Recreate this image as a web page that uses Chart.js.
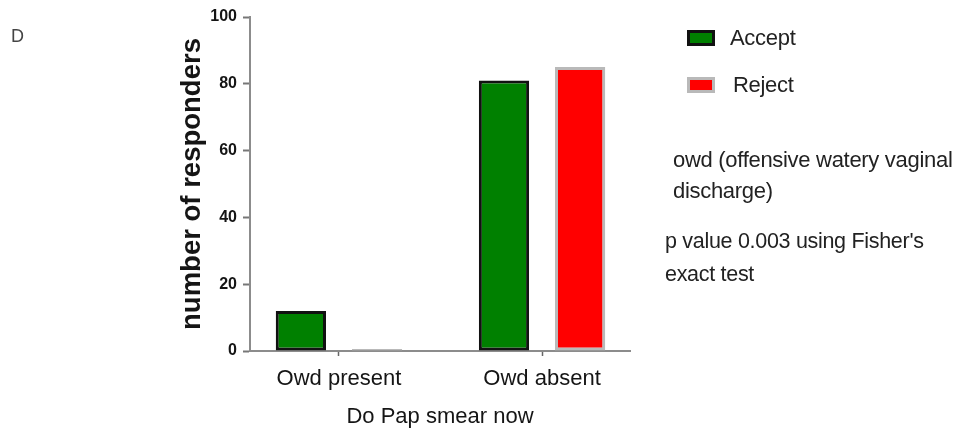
<!DOCTYPE html>
<html>
<head>
<meta charset="utf-8">
<script src="https://cdn.jsdelivr.net/npm/chart.js@4/dist/chart.umd.min.js"></script>
<style>
  html, body { margin: 0; padding: 0; background: #ffffff; }
  #wrap { position: relative; width: 956px; height: 432px; overflow: hidden; }
  canvas { position: absolute; left: 0; top: 0; }
  .txt { position: absolute; white-space: nowrap; color: #222; font-family: 'Liberation Sans', Arial, sans-serif; letter-spacing: -0.3px; }
  .box { position: absolute; box-sizing: border-box; }
</style>
</head>
<body>
<div id="wrap">
  <canvas id="c" width="956" height="432"></canvas>
  <div id="legend"></div>
  <div class="txt" style="left:11px; top:24px; font-size:18px; line-height:24px; color:#444;">D</div>
  <div class="txt" style="left:673px; top:145px; font-size:22px; line-height:30px;">owd (offensive watery vaginal</div>
  <div class="txt" style="left:673px; top:176px; font-size:22px; line-height:30px;">discharge)</div>
  <div class="txt" style="left:665px; top:226px; font-size:21.5px; line-height:30px;">p value 0.003 using Fisher's</div>
  <div class="txt" style="left:665px; top:259px; font-size:21.5px; line-height:30px;">exact test</div>
</div>
<script>
// ---- data ----
const categories = ['Owd present', 'Owd absent'];
const seriesNames = ['Accept', 'Reject'];
const acceptCounts = [12, 81];
const rejectCounts = [0, 85];
const yTickValues = [0, 20, 40, 60, 80, 100];
const xTitle = 'Do Pap smear now';
const yTitle = 'number of responders';

// ---- styles ----
const FONT = "'Liberation Sans', Arial, sans-serif";
const fills = ['#008000', '#ff0000'];
const borders = ['#111111', '#b9b9b9'];

const toPoints = arr => arr.map((v, i) => ({ x: i + 1, y: v }));

const chart = new Chart(document.getElementById('c'), {
  type: 'bar',
  data: {
    datasets: [
      { label: seriesNames[0], data: toPoints(acceptCounts), backgroundColor: fills[0], borderColor: borders[0], borderWidth: 3, borderSkipped: false, minBarLength: 2 },
      { label: seriesNames[1], data: toPoints(rejectCounts), backgroundColor: fills[1], borderColor: borders[1], borderWidth: 3, borderSkipped: false, minBarLength: 2 }
    ]
  },
  options: {
    responsive: false,
    animation: false,
    devicePixelRatio: 1,
    layout: { padding: { left: 0, right: 326, top: 17, bottom: 0 } },
    categoryPercentage: 0.75,
    barPercentage: 0.66,
    plugins: { legend: { display: false }, tooltip: { enabled: false } },
    scales: {
      x: {
        type: 'linear',
        offset: false,
        min: 0.562,
        max: 2.433,
        afterBuildTicks: s => { s.ticks = categories.map((c, i) => ({ value: i + 1 })); },
        afterFit: s => { s.height = 81; },
        grid: { display: true, offset: false, drawOnChartArea: false, drawTicks: true, tickLength: 5, tickColor: '#666', tickWidth: 1.5 },
        border: { display: true, color: '#8c8c8c', width: 2 },
        ticks: {
          autoSkip: false, maxRotation: 0, padding: 10, color: '#151515',
          font: { family: FONT, size: 22 },
          callback: v => categories[Math.round(v) - 1] || ''
        },
        title: { display: true, text: xTitle, color: '#151515', font: { family: FONT, size: 22 }, padding: { top: 0, bottom: 2 } }
      },
      y: {
        min: 0, max: 100,
        afterBuildTicks: s => { s.ticks = yTickValues.map(v => ({ value: v })); },
        afterFit: s => { s.width = 250; },
        grid: { display: true, drawOnChartArea: false, drawTicks: true, tickLength: 7, tickColor: '#777', tickWidth: 2 },
        border: { display: true, color: '#8c8c8c', width: 2 },
        ticks: { padding: 6, color: '#151515', font: { family: FONT, size: 16, weight: 'bold' } },
        title: { display: true, text: yTitle, color: '#151515', font: { family: FONT, size: 27.5, weight: 'bold' }, padding: { top: 176, bottom: 0 } }
      }
    }
  }
});

// ---- HTML legend built from datasets ----
const legend = document.getElementById('legend');
const legendPos = [{ top: 30, textLeft: 730 }, { top: 77, textLeft: 733 }];
chart.data.datasets.forEach((ds, i) => {
  const b = document.createElement('div');
  b.className = 'box';
  b.style.cssText = `left:687px; top:${legendPos[i].top}px; width:28px; height:16px; background:${ds.backgroundColor}; border:3px solid ${ds.borderColor};`;
  legend.appendChild(b);
  const t = document.createElement('div');
  t.className = 'txt';
  t.textContent = ds.label;
  t.style.cssText = `left:${legendPos[i].textLeft}px; top:${legendPos[i].top - 7}px; font-size:22px; line-height:30px;`;
  legend.appendChild(t);
});
</script>
</body>
</html>
